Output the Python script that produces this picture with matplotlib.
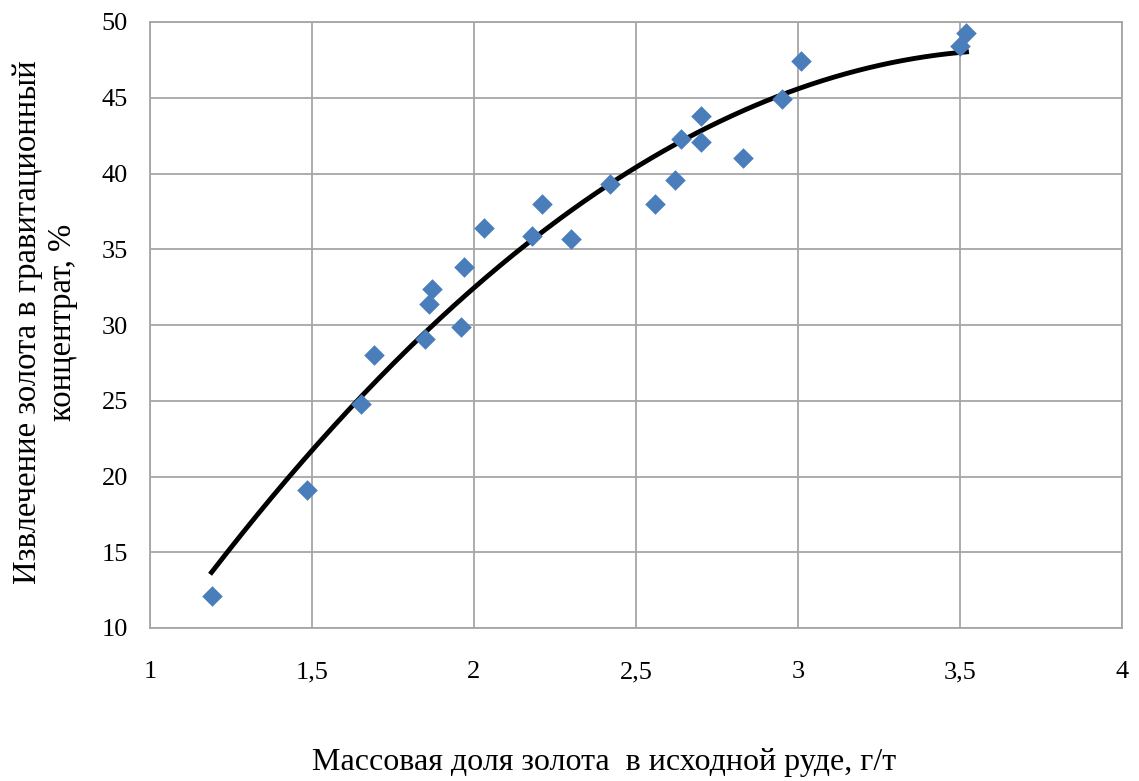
import numpy as np
import matplotlib.pyplot as plt

plt.rcParams['font.family'] = ['Liberation Serif', 'DejaVu Serif']

# массовая доля золота, г/т и извлечение, %
gold = [1.19, 1.485, 1.65, 1.69, 1.85, 1.86, 1.87, 1.96, 1.97, 2.03, 2.18, 2.21,
        2.30, 2.42, 2.56, 2.62, 2.64, 2.70, 2.70, 2.83, 2.95, 3.01, 3.50, 3.52]
recovery = [12.1, 19.1, 24.8, 28.0, 29.1, 31.4, 32.4, 29.9, 33.8, 36.4, 35.9, 38.0,
            35.7, 39.3, 38.0, 39.6, 42.3, 43.8, 42.1, 41.0, 44.9, 47.4, 48.4, 49.3]

x_ticks = [1, 1.5, 2, 2.5, 3, 3.5, 4]
x_labels = ['1', '1,5', '2', '2,5', '3', '3,5', '4']
y_ticks = [10, 15, 20, 25, 30, 35, 40, 45, 50]

fig = plt.figure(figsize=(11.39, 7.81), dpi=100)
ax = fig.add_axes([150/1139, 1 - 628/781, 972/1139, 606/781])

# полиномиальная линия тренда 2-й степени
coef = np.polyfit(gold, recovery, 2)
xs = np.linspace(min(gold), max(gold), 200)
ax.plot(xs, np.polyval(coef, xs), color='black', linewidth=3.5, zorder=2)

ax.scatter(gold, recovery, marker='D', s=110, color='#4a7ebb', zorder=3, linewidths=0)

ax.set_xlim(1, 4)
ax.set_ylim(10, 50)
ax.set_xticks(x_ticks)
ax.set_xticklabels(x_labels)
ax.set_yticks(y_ticks)
ax.grid(True, color='#a6a6a6', linewidth=1.3)
ax.set_axisbelow(True)
for s in ax.spines.values():
    s.set_color('#a6a6a6')
    s.set_linewidth(1.3)
ax.tick_params(axis='both', length=0, labelsize=19)
ax.tick_params(axis='y', pad=16)
ax.tick_params(axis='x', pad=24)

ax.set_xlabel('Массовая доля золота  в исходной руде, г/т', fontsize=23)
ax.xaxis.set_label_coords((604 - 150) / 972, -(748 - 628) / 606)
ax.set_ylabel('Извлечение золота в гравитационный\nконцентрат, %', fontsize=23.5,
              linespacing=1.2)
ax.yaxis.set_label_coords(-(150 - 78) / 972, 0.505)

fig.savefig('out.png', dpi=100)
